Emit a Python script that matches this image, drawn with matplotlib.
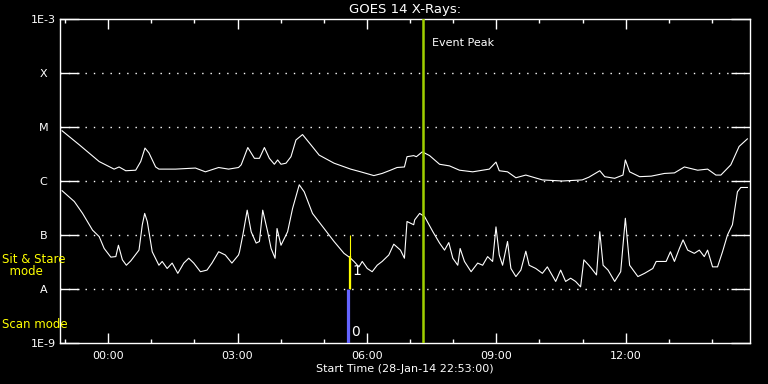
import numpy as np
import matplotlib
matplotlib.use("Agg")
from matplotlib import pyplot as plt
from matplotlib.ticker import FixedLocator, NullLocator

# time in hours after 00:00 29-Jan-14 (start 22:53 on 28-Jan)
t_long = [-1.068, -0.669, -0.208, 0.138, 0.254, 0.408, 0.639, 0.755, 0.854, 0.946,
          1.101, 1.177, 1.562, 2.024, 2.255, 2.562, 2.792, 3.023, 3.085, 3.238,
          3.392, 3.508, 3.623, 3.738, 3.854, 3.930, 4.008, 4.124, 4.239, 4.355,
          4.507, 4.701, 4.892, 5.238, 5.624, 5.855, 6.162, 6.353, 6.547, 6.699,
          6.870, 6.930, 7.085, 7.147, 7.285, 7.454, 7.685, 7.915, 8.146, 8.453,
          8.838, 8.993, 9.069, 9.261, 9.455, 9.685, 10.069, 10.530, 10.992, 11.146,
          11.400, 11.515, 11.746, 11.938, 11.993, 12.092, 12.323, 12.593, 12.900, 13.131,
          13.362, 13.669, 13.900, 14.093, 14.208, 14.439, 14.631, 14.823]
# log10 flux, 1-8 A channel
f_long = [-5.07, -5.33, -5.64, -5.78, -5.74, -5.81, -5.80, -5.64, -5.39, -5.48,
          -5.74, -5.78, -5.78, -5.76, -5.83, -5.75, -5.78, -5.75, -5.70, -5.38,
          -5.58, -5.58, -5.38, -5.58, -5.69, -5.61, -5.69, -5.67, -5.55, -5.24,
          -5.14, -5.33, -5.52, -5.67, -5.78, -5.83, -5.90, -5.86, -5.80, -5.75,
          -5.74, -5.55, -5.53, -5.55, -5.46, -5.53, -5.69, -5.72, -5.80, -5.83,
          -5.78, -5.65, -5.81, -5.83, -5.94, -5.89, -5.98, -6.00, -5.98, -5.93,
          -5.81, -5.92, -5.95, -5.89, -5.61, -5.83, -5.92, -5.91, -5.86, -5.85,
          -5.74, -5.80, -5.78, -5.89, -5.89, -5.70, -5.36, -5.22]

t_short = [-1.068, -0.785, -0.593, -0.362, -0.208, -0.092, 0.062, 0.178, 0.238, 0.330,
           0.422, 0.524, 0.715, 0.792, 0.847, 0.907, 1.022, 1.177, 1.253, 1.368,
           1.484, 1.615, 1.754, 1.869, 1.985, 2.139, 2.292, 2.407, 2.562, 2.716,
           2.869, 3.023, 3.046, 3.123, 3.224, 3.316, 3.432, 3.508, 3.584, 3.699,
           3.778, 3.870, 3.916, 4.008, 4.161, 4.276, 4.431, 4.546, 4.738, 5.008,
           5.238, 5.469, 5.608, 5.700, 5.815, 5.892, 6.007, 6.122, 6.238, 6.353,
           6.508, 6.623, 6.778, 6.870, 6.930, 7.085, 7.108, 7.223, 7.338, 7.530,
           7.685, 7.800, 7.899, 7.992, 8.107, 8.162, 8.262, 8.416, 8.569, 8.684,
           8.799, 8.915, 8.993, 9.069, 9.146, 9.261, 9.339, 9.455, 9.570, 9.685,
           9.762, 9.916, 10.069, 10.184, 10.378, 10.493, 10.608, 10.724, 10.839, 10.955,
           11.031, 11.146, 11.208, 11.324, 11.400, 11.477, 11.592, 11.746, 11.885, 11.993,
           12.092, 12.284, 12.438, 12.630, 12.708, 12.939, 13.038, 13.131, 13.246, 13.331,
           13.438, 13.592, 13.708, 13.823, 13.900, 14.015, 14.131, 14.246, 14.361, 14.476,
           14.592, 14.670, 14.823]
# log10 flux, 0.5-4 A channel
f_short = [-6.18, -6.38, -6.60, -6.91, -7.03, -7.25, -7.41, -7.40, -7.19, -7.46,
           -7.56, -7.48, -7.28, -6.81, -6.60, -6.75, -7.31, -7.56, -7.49, -7.62,
           -7.52, -7.71, -7.52, -7.43, -7.52, -7.68, -7.65, -7.52, -7.31, -7.37,
           -7.52, -7.37, -7.31, -7.00, -6.54, -6.94, -7.15, -7.12, -6.54, -6.94,
           -7.25, -7.43, -6.88, -7.19, -6.94, -6.51, -6.07, -6.20, -6.60, -6.88,
           -7.12, -7.34, -7.42, -7.49, -7.59, -7.49, -7.62, -7.68, -7.56, -7.49,
           -7.37, -7.17, -7.28, -7.43, -6.75, -6.81, -6.72, -6.60, -6.66, -6.94,
           -7.15, -7.28, -7.14, -7.43, -7.56, -7.25, -7.49, -7.68, -7.52, -7.56,
           -7.40, -7.49, -6.85, -7.37, -7.56, -7.12, -7.62, -7.77, -7.65, -7.30,
           -7.56, -7.62, -7.71, -7.59, -7.86, -7.65, -7.86, -7.80, -7.86, -7.96,
           -7.46, -7.56, -7.62, -7.74, -6.94, -7.56, -7.65, -7.86, -7.68, -6.69,
           -7.56, -7.77, -7.71, -7.62, -7.49, -7.49, -7.31, -7.49, -7.25, -7.09,
           -7.28, -7.34, -7.28, -7.40, -7.28, -7.59, -7.59, -7.31, -7.00, -6.81,
           -6.20, -6.12, -6.12]

event_peak = 7.30
scan_time = 5.565
stare_time = 5.60

xticks = [0, 3, 6, 9, 12]
xticklabels = ["00:00", "03:00", "06:00", "09:00", "12:00"]
yticks = [1e-9, 1e-8, 1e-7, 1e-6, 1e-5, 1e-4, 1e-3]
yticklabels = ["1E-9", "A", "B", "C", "M", "X", "1E-3"]

plt.rcParams["font.family"] = "DejaVu Sans"
fig = plt.figure(figsize=(7.68, 3.84), dpi=100, facecolor="black")
ax = fig.add_axes([60/768, 1 - 343/384, 690/768, 324/384], facecolor="black")

ax.set_yscale("log")
ax.set_ylim(1e-9, 1e-3)
ax.set_xlim(-67/60, 14 + 53/60)

# dotted class lines
for yv in yticks[1:-1]:
    ax.axhline(yv, color="white", lw=1.0, ls=(0, (1, 5)), zorder=1)

ax.plot(t_long, 10**np.array(f_long), color="white", lw=0.8, zorder=3)
ax.plot(t_short, 10**np.array(f_short), color="white", lw=0.8, zorder=3)

# mode markers
ax.vlines(scan_time, 1e-9, 1e-8, color="#6464ff", lw=2.3, zorder=4)
ax.vlines(stare_time, 1e-8, 1e-7, color="yellow", lw=0.8, zorder=4)
ax.vlines(stare_time + 0.01, 1e-8, 10**-7.39, color="yellow", lw=1.6, zorder=4)
ax.text(scan_time + 0.08, 10**-8.8, "0", color="white", fontsize=10, ha="left", va="center")
ax.text(stare_time + 0.06, 10**-7.67, "1", color="white", fontsize=10, ha="left", va="center")

# event peak
ax.axvline(event_peak, color="#a0d000", lw=1.8, zorder=5)
ax.text(event_peak + 0.22, 10**-3.44, "Event Peak", color="white", fontsize=8, ha="left", va="center")

# axes styling
for sp in ax.spines.values():
    sp.set_color("white")
    sp.set_linewidth(1.0)
ax.yaxis.set_major_locator(FixedLocator(yticks))
ax.yaxis.set_minor_locator(NullLocator())
ax.set_yticklabels(yticklabels)
ax.set_xticks(xticks)
ax.set_xticklabels(xticklabels)
ax.xaxis.set_minor_locator(FixedLocator(list(range(-1, 15))))
ax.tick_params(axis="y", which="major", direction="in", length=14, width=1, colors="white",
               left=True, right=True, labelsize=8, pad=12)
ax.tick_params(axis="x", which="major", direction="in", length=7, width=1, colors="white",
               top=True, bottom=True, labelsize=8, pad=6)
ax.tick_params(axis="x", which="minor", direction="in", length=3, width=1, colors="white",
               top=True, bottom=True)
for lbl in ax.get_yticklabels():
    lbl.set_ha("center")

ax.set_title("GOES 14 X-Rays:", color="white", fontsize=9.5, pad=4)
ax.set_xlabel("Start Time (28-Jan-14 22:53:00)", color="white", fontsize=8, labelpad=2)

fig.text(2/768, 1 - 259.5/384, "Sit & Stare", color="yellow", fontsize=8.5, ha="left", va="center")
fig.text(2/768, 1 - 271.5/384, "  mode", color="yellow", fontsize=8.5, ha="left", va="center")
fig.text(2/768, 1 - 324/384, "Scan mode", color="yellow", fontsize=8.5, ha="left", va="center")

fig.savefig("out.png", dpi=100, facecolor="black")
